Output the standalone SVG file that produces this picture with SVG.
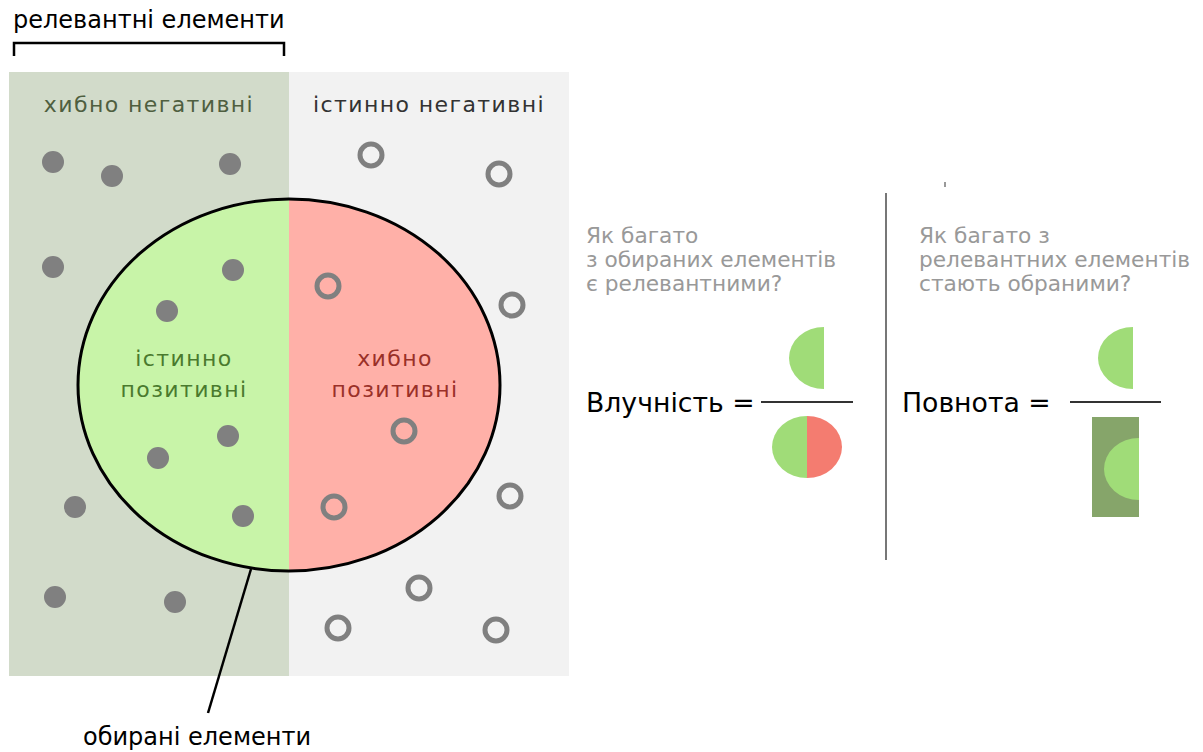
<svg xmlns="http://www.w3.org/2000/svg" width="1203" height="752" viewBox="0 0 1203 752">
<style>
text{font-family:"DejaVu Sans","Noto Sans",sans-serif;}
.lbl{font-size:24px;fill:#000;}
.fn{font-size:22px;fill:#4f5f40;letter-spacing:1.4px;}
.tn{font-size:22px;fill:#333;letter-spacing:1.4px;}
.tp{font-size:22px;fill:#4a7a2e;letter-spacing:1.4px;}
.fp{font-size:22px;fill:#9a3028;letter-spacing:1.4px;}
.q{font-size:21.7px;fill:#999;}
.eq{font-size:26.7px;fill:#000;}
.dot{fill:#808080;}
.ring{fill:none;stroke:#808080;stroke-width:5;}
</style>
<rect width="1203" height="752" fill="#fff"/>
<g id="background">
<rect x="9" y="72" width="280" height="604" fill="#d2dbca"/>
<rect x="289" y="72" width="280" height="604" fill="#f2f2f2"/>
</g>
<g id="relevant-label">
<text class="lbl" x="13" y="28">релевантні елементи</text>
<path d="M14,56 V43 H284 V56" fill="none" stroke="#000" stroke-width="2.5"/>
</g>
<g id="false-negatives-label"><text class="fn" x="149" y="112" text-anchor="middle">хибно негативні</text></g>
<g id="true-negatives-label"><text class="tn" x="429" y="112" text-anchor="middle">істинно негативні</text></g>
<g id="selected-ellipse">
<path d="M289,199 A211,186 0 0 0 289,571 Z" fill="#c8f4a8"/>
<path d="M289,199 A211,186 0 0 1 289,571 Z" fill="#ffb0a8"/>
<ellipse cx="289" cy="385" rx="211" ry="186" fill="none" stroke="#000" stroke-width="3"/>
</g>
<g id="true-positives-label">
<text class="tp" x="184" y="366" text-anchor="middle">істинно</text>
<text class="tp" x="184" y="397" text-anchor="middle">позитивні</text>
</g>
<g id="false-positives-label">
<text class="fp" x="395" y="366" text-anchor="middle">хибно</text>
<text class="fp" x="395" y="397" text-anchor="middle">позитивні</text>
</g>
<g id="relevant-dots">
<circle class="dot" cx="53" cy="162" r="11"/>
<circle class="dot" cx="112" cy="176" r="11"/>
<circle class="dot" cx="230" cy="164" r="11"/>
<circle class="dot" cx="53" cy="267" r="11"/>
<circle class="dot" cx="233" cy="270" r="11"/>
<circle class="dot" cx="167" cy="311" r="11"/>
<circle class="dot" cx="228" cy="436" r="11"/>
<circle class="dot" cx="158" cy="458" r="11"/>
<circle class="dot" cx="243" cy="516" r="11"/>
<circle class="dot" cx="75" cy="507" r="11"/>
<circle class="dot" cx="55" cy="597" r="11"/>
<circle class="dot" cx="175" cy="602" r="11"/>
</g>
<g id="irrelevant-rings">
<circle class="ring" cx="371" cy="155" r="11"/>
<circle class="ring" cx="499" cy="174" r="11"/>
<circle class="ring" cx="512" cy="305" r="11"/>
<circle class="ring" cx="328" cy="286" r="11"/>
<circle class="ring" cx="404" cy="431" r="11"/>
<circle class="ring" cx="510" cy="496" r="11"/>
<circle class="ring" cx="334" cy="507" r="11"/>
<circle class="ring" cx="419" cy="588" r="11"/>
<circle class="ring" cx="338" cy="628" r="11"/>
<circle class="ring" cx="496" cy="630" r="11"/>
</g>
<g id="connectors">
<line x1="251" y1="569" x2="208" y2="713" stroke="#000" stroke-width="2.5"/>
</g>
<g id="selected-label"><text class="lbl" x="83" y="745">обирані елементи</text></g>
<g id="precision-question">
<text class="q" x="586" y="243">Як багато</text>
<text class="q" x="586" y="267">з обираних елементів</text>
<text class="q" x="586" y="291">є релевантними?</text>
</g>
<g id="divider">
<line x1="886" y1="193" x2="886" y2="560" stroke="#777" stroke-width="2"/>
<line x1="945" y1="182" x2="945" y2="187" stroke="#999" stroke-width="2"/>
</g>
<g id="recall-question">
<text class="q" x="919" y="243">Як багато з</text>
<text class="q" x="919" y="267">релевантних елементів</text>
<text class="q" x="919" y="291">стають обраними?</text>
</g>
<g id="precision-formula">
<text class="eq" x="586" y="412">Влучність =</text>
<line x1="761" y1="402" x2="853" y2="402" stroke="#333" stroke-width="2"/>
<path d="M824,327 A35,31 0 0 0 824,389 Z" fill="#a0dc78"/>
<path d="M807,416 A35,31 0 0 0 807,478 Z" fill="#a0dc78"/>
<path d="M807,416 A35,31 0 0 1 807,478 Z" fill="#f47c70"/>
</g>
<g id="recall-formula">
<text class="eq" x="902" y="412">Повнота =</text>
<line x1="1070" y1="402" x2="1161" y2="402" stroke="#333" stroke-width="2"/>
<path d="M1133,327 A35,31 0 0 0 1133,389 Z" fill="#a0dc78"/>
<rect x="1092" y="417" width="47" height="100" fill="#86a56a"/>
<path d="M1139,438 A35,31 0 0 0 1139,500 Z" fill="#a0dc78"/>
</g>
</svg>
